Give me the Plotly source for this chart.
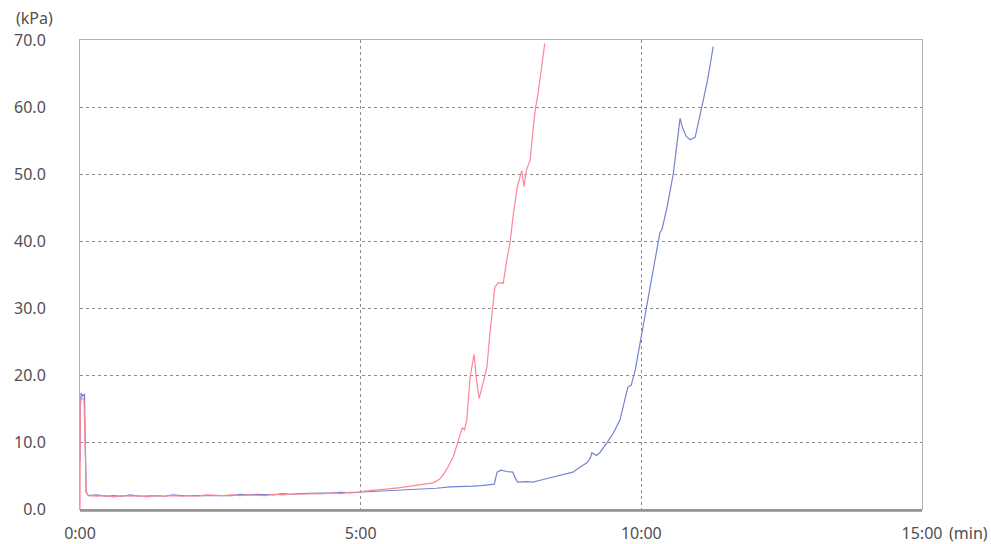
import plotly.graph_objects as go

# time in minutes, pressure in kPa
red_t = [0.00, 0.005, 0.03, 0.07, 0.09, 0.11, 0.15, 0.3, 0.45, 0.6, 0.75, 0.9, 1.05, 1.2, 1.35, 1.5,
         1.65, 1.8, 1.95, 2.1, 2.25, 2.4, 2.55, 2.7, 2.85, 3.0, 3.15, 3.3, 3.45, 3.6, 3.75, 3.9,
         4.05, 4.2, 4.35, 4.5, 4.65, 4.8, 4.95, 5.1, 5.3, 5.5, 5.7, 5.9, 6.1, 6.29, 6.4, 6.47,
         6.55, 6.65, 6.75, 6.81, 6.85, 6.89, 6.95, 7.02, 7.06, 7.11, 7.18, 7.25, 7.30, 7.39,
         7.45, 7.54, 7.60, 7.66, 7.72, 7.79, 7.87, 7.91, 7.95, 8.02, 8.07, 8.11, 8.16, 8.20,
         8.24, 8.28]
red_v = [0.0, 16.0, 16.6, 16.3, 10.0, 2.6, 2.0, 1.9, 2.0, 1.8, 2.0, 1.9, 2.0, 1.8, 2.0, 1.9,
         2.0, 1.9, 2.0, 1.9, 2.1, 2.0, 2.0, 2.1, 2.0, 2.1, 2.1, 2.0, 2.2, 2.1, 2.2, 2.2,
         2.3, 2.2, 2.3, 2.4, 2.3, 2.5, 2.5, 2.7, 2.8, 3.0, 3.2, 3.4, 3.6, 3.9, 4.4, 5.1,
         6.2, 7.8, 10.5, 12.1, 11.8, 13.3, 19.7, 23.1, 19.5, 16.5, 18.8, 21.2, 26.0, 33.1,
         33.8, 33.7, 37.0, 39.7, 44.0, 48.1, 50.5, 48.1, 50.5, 52.1, 56.5, 59.6, 62.0, 64.5,
         67.0, 69.5]

blue_t = [0.00, 0.005, 0.02, 0.05, 0.08, 0.095, 0.11, 0.15, 0.3, 0.45, 0.6, 0.75, 0.9, 1.05,
          1.2, 1.35, 1.5, 1.65, 1.8, 1.95, 2.1, 2.25, 2.4, 2.55, 2.7, 2.85, 3.0, 3.15, 3.3,
          3.45, 3.6, 3.75, 3.9, 4.05, 4.2, 4.35, 4.5, 4.65, 4.8, 4.95, 5.2, 5.5, 5.8, 6.1,
          6.35, 6.59, 6.8, 7.0, 7.15, 7.30, 7.38, 7.43, 7.50, 7.60, 7.71, 7.76, 7.80, 7.95,
          8.07, 8.25, 8.43, 8.60, 8.78, 8.90, 9.03, 9.09, 9.12, 9.20, 9.26, 9.38, 9.50, 9.62,
          9.70, 9.76, 9.82, 9.89, 9.95, 10.01, 10.08, 10.15, 10.24, 10.33, 10.37, 10.46,
          10.57, 10.63, 10.69, 10.73, 10.80, 10.87, 10.96, 11.02, 11.08, 11.17, 11.22, 11.28]
blue_v = [7.0, 15.0, 17.3, 16.8, 17.2, 10.0, 2.5, 2.0, 2.1, 1.9, 2.0, 1.9, 2.1, 1.9,
          2.0, 2.0, 1.9, 2.1, 2.0, 2.0, 2.1, 2.0, 2.1, 2.1, 2.0, 2.2, 2.1, 2.2, 2.2,
          2.1, 2.3, 2.2, 2.3, 2.3, 2.4, 2.3, 2.4, 2.5, 2.4, 2.5, 2.6, 2.7, 2.9, 3.0,
          3.1, 3.3, 3.3, 3.4, 3.5, 3.6, 3.7, 5.5, 5.8, 5.6, 5.5, 4.5, 4.0, 4.1,
          4.0, 4.4, 4.8, 5.1, 5.5, 6.2, 6.9, 7.6, 8.4, 8.0, 8.4, 9.8, 11.3, 13.3,
          16.0, 18.2, 18.5, 20.7, 23.5, 26.3, 29.5, 32.7, 37.0, 41.2, 41.8, 45.1,
          50.1, 54.5, 58.3, 57.0, 55.6, 55.1, 55.5, 57.8, 60.0, 63.6, 66.0, 69.0]

x_tickvals = [0, 5, 10, 15]
x_ticktext = ["0:00", "5:00", "10:00", "15:00"]
y_tickvals = [0, 10, 20, 30, 40, 50, 60, 70]
y_ticktext = ["0.0", "10.0", "20.0", "30.0", "40.0", "50.0", "60.0", "70.0"]

font = dict(family="Noto Sans, Arial, sans-serif", size=16, color="#505050")

fig = go.Figure()
fig.add_trace(go.Scatter(x=blue_t, y=blue_v, mode="lines",
                         line=dict(color="#7684cf", width=1.2), showlegend=False))
fig.add_trace(go.Scatter(x=red_t, y=red_v, mode="lines",
                         line=dict(color="#fc8796", width=1.2), showlegend=False))

fig.update_layout(
    width=991, height=544,
    margin=dict(l=80, r=69, t=40, b=35),
    paper_bgcolor="white", plot_bgcolor="white",
    font=font,
    xaxis=dict(range=[0, 15], tickvals=x_tickvals, ticktext=x_ticktext, automargin=False,
               showgrid=True, gridcolor="#8a8a8a", griddash="dot", gridwidth=1,
               showline=True, linecolor="#b0b0b0", linewidth=1, mirror=True,
               ticks="outside", ticklen=10, tickcolor="rgba(0,0,0,0)",
               zeroline=False, tickfont=font),
    yaxis=dict(range=[0, 70], tickvals=y_tickvals, ticktext=y_ticktext, automargin=False,
               showgrid=True, gridcolor="#8a8a8a", griddash="dot", gridwidth=1,
               showline=True, linecolor="#b0b0b0", linewidth=1, mirror=True,
               ticks="outside", ticklen=30, tickcolor="rgba(0,0,0,0)",
               zeroline=False, tickfont=font),
    shapes=[dict(type="line", xref="paper", yref="paper", x0=0, x1=1, y0=-0.003, y1=-0.003,
                 line=dict(color="#909090", width=2.5))],
    annotations=[
        dict(text="(kPa)", xref="paper", yref="paper", x=-0.0546, y=1.0, yshift=22,
             showarrow=False, font=font, xanchor="center", yanchor="middle"),
        dict(text="(min)", xref="paper", yref="paper", x=1.0808, y=0, yshift=-24,
             showarrow=False, font=font, xanchor="right", yanchor="middle"),
    ],
)

fig.write_html("out.html", config={"displayModeBar": False},
               post_script="document.body.style.margin='0';document.body.style.overflow='hidden';")
